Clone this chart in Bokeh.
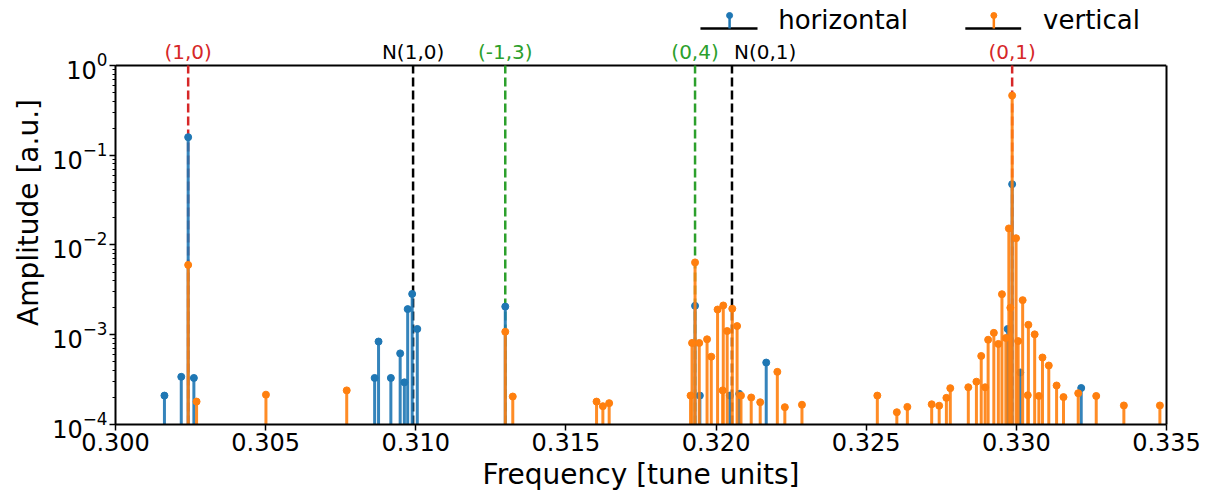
from bokeh.plotting import figure
from bokeh.models import Range1d, SingleIntervalTicker, PrintfTickFormatter, ColumnDataSource, LogAxis, FixedTicker
from bokeh.core.properties import value
from bokeh.embed import file_html
from bokeh.resources import INLINE

# ---------------- data ----------------
h_freq = [0.30163, 0.30219, 0.30242, 0.30261, 0.30863, 0.30876, 0.30917, 0.30948,
          0.30962, 0.30973, 0.30988, 0.31005, 0.31298, 0.31930, 0.31946, 0.32046,
          0.32077, 0.32167, 0.32971, 0.32986, 0.33013, 0.33216]
h_amp = [2.1e-4, 3.4e-4, 0.159, 3.3e-4, 3.3e-4, 8.4e-4, 3.3e-4, 6.2e-4,
         2.95e-4, 1.93e-3, 2.85e-3, 1.16e-3, 2.06e-3, 2.1e-3, 2.1e-4, 2.1e-4,
         2.2e-4, 4.9e-4, 1.16e-3, 4.76e-2, 3.8e-4, 2.55e-4]

v_freq = [0.30242, 0.30270, 0.30501, 0.30770, 0.31298, 0.31323, 0.31602, 0.31623,
          0.31644, 0.31915, 0.31920, 0.31930, 0.31944, 0.31970, 0.31984, 0.32005,
          0.32022, 0.32024, 0.32037, 0.32054, 0.32070, 0.32083, 0.32117, 0.32147,
          0.32204, 0.32229, 0.32286, 0.32537, 0.32602, 0.32637, 0.32718, 0.32743,
          0.32767, 0.32780, 0.32840, 0.32867, 0.32883, 0.32896, 0.32906, 0.32925,
          0.32940, 0.32952, 0.32965, 0.32975, 0.32980, 0.32986, 0.32999, 0.33006,
          0.33021, 0.33038, 0.33040, 0.33061, 0.33075, 0.33087, 0.33108, 0.33134,
          0.33157, 0.33206, 0.33266, 0.33358, 0.33478]
v_amp = [6.0e-3, 1.8e-4, 2.15e-4, 2.4e-4, 1.08e-3, 2.05e-4, 1.8e-4, 1.6e-4,
         1.73e-4, 2.1e-4, 8.1e-4, 6.4e-3, 8.1e-4, 8.9e-4, 5.7e-4, 1.91e-3,
         2.4e-4, 2.12e-3, 1.1e-3, 1.95e-3, 1.25e-3, 2.1e-4, 2.0e-4, 1.77e-4,
         3.86e-4, 1.56e-4, 1.66e-4, 2.1e-4, 1.37e-4, 1.57e-4, 1.68e-4, 1.62e-4,
         1.98e-4, 2.54e-4, 2.6e-4, 3.0e-4, 5.8e-4, 2.6e-4, 8.8e-4, 1.05e-3,
         7.9e-4, 2.83e-3, 9.2e-4, 1.53e-2, 2.0e-3, 0.463, 1.19e-2, 8.5e-4,
         2.43e-3, 2.12e-4, 1.29e-3, 1.01e-3, 2.08e-4, 5.58e-4, 4.54e-4, 2.72e-4,
         2.02e-4, 2.23e-4, 2.08e-4, 1.63e-4, 1.63e-4]

tune_lines = [0.30242, 0.30991, 0.31298, 0.31930, 0.32053, 0.32986]
tune_labels = ["(1,0)", "N(1,0)", "(-1,3)", "(0,4)", "N(0,1)", "(0,1)"]
tune_colors = ["#d62728", "black", "#2ca02c", "#2ca02c", "black", "#d62728"]
tune_align = ["center", "center", "center", "center", "left", "center"]

legend_names = ["horizontal", "vertical"]

x_ticks = [0.300, 0.305, 0.310, 0.315, 0.320, 0.325, 0.330, 0.335]
y_min, y_max = 1e-4, 1.0

BLUE = "#1f77b4"
ORANGE = "#ff7f0e"
FONT = "DejaVu Sans"

# vertical space above the axes box (used for labels + legend), in decades of the log scale
HEAD = 0.7242
y_view_top = y_max * 10 ** HEAD
y_label = y_max * 10 ** 0.145     # tune labels
y_leg_base = y_max * 10 ** 0.412  # legend icon baseline
y_leg_tip = y_max * 10 ** 0.557   # legend icon stem tip
y_leg_txt = y_max * 10 ** 0.5125  # legend text

# ---------------- figure ----------------
p = figure(width=1216, height=497, x_range=Range1d(x_ticks[0], x_ticks[-1]),
           y_range=Range1d(y_min, y_view_top), y_axis_type="log",
           output_backend="svg", toolbar_location=None,
           min_border_left=115, min_border_right=50, min_border_top=0, min_border_bottom=73)
p.grid.visible = False
p.outline_line_color = None

p.xaxis.ticker = SingleIntervalTicker(interval=0.005, num_minor_ticks=0)
p.xaxis.formatter = PrintfTickFormatter(format="%.3f")
p.xaxis.axis_label = "Frequency [tune units]"
p.yaxis.axis_label = "Amplitude [a.u.]"
p.yaxis.bounds = (y_min, y_max)
for ax in (p.xaxis[0], p.yaxis[0]):
    ax.axis_line_width = 2
    ax.axis_line_color = "black"
    ax.major_tick_line_width = 1.5
    ax.minor_tick_line_width = 1
    ax.major_tick_out = 6
    ax.major_tick_in = 0
    ax.minor_tick_out = 3
    ax.minor_tick_in = 0
    ax.major_label_text_font = FONT
    ax.major_label_text_font_size = "24px"
    ax.major_label_text_color = "black"
    ax.axis_label_text_font = FONT
    ax.axis_label_text_font_size = "28px"
    ax.axis_label_text_font_style = "normal"
    ax.axis_label_text_color = "black"
    ax.major_label_standoff = 2
    ax.axis_label_standoff = 4

# right edge of the axes box (axis line only, no ticks)
right_ax = LogAxis(bounds=(y_min, y_max), axis_line_width=2, axis_line_color="black",
                   ticker=FixedTicker(ticks=[], minor_ticks=[]),
                   major_tick_out=0, major_tick_in=0, minor_tick_out=0, minor_tick_in=0)
p.add_layout(right_ax, "right")

# top edge of the axes box
p.segment(x0=[x_ticks[0]], y0=[y_max], x1=[x_ticks[-1]], y1=[y_max],
          line_color="black", line_width=2)

# tune reference lines
p.segment(x0=tune_lines, y0=[y_min] * len(tune_lines), x1=tune_lines, y1=[y_max] * len(tune_lines),
          line_color=tune_colors, line_width=2.5, line_dash="9 4")

# stems
hs = ColumnDataSource(dict(f=h_freq, a=h_amp, b=[y_min] * len(h_freq)))
vs = ColumnDataSource(dict(f=v_freq, a=v_amp, b=[y_min] * len(v_freq)))
p.segment(x0="f", y0="b", x1="f", y1="a", source=hs, line_color=BLUE, line_width=3, line_alpha=0.9)
p.scatter(x="f", y="a", source=hs, marker="circle", size=7, fill_color=BLUE, line_color=BLUE)
p.segment(x0="f", y0="b", x1="f", y1="a", source=vs, line_color=ORANGE, line_width=3, line_alpha=0.9)
p.scatter(x="f", y="a", source=vs, marker="circle", size=7, fill_color=ORANGE, line_color=ORANGE)

# tune labels above the box
for xv, txt, col, al in zip(tune_lines, tune_labels, tune_colors, tune_align):
    p.text(x=[xv], y=[y_label], text=[txt], text_color=col, text_font=value(FONT),
           text_font_size="20px", text_align=al, text_baseline="middle",
           x_offset=2 if al == "left" else 0)

# legend (icon line start/end, stem position, text start in frequency units)
leg_line_x0 = [0.31948, 0.32830]
leg_line_x1 = [0.32138, 0.33016]
leg_stem_x = [0.32045, 0.32925]
leg_text_x = [0.32207, 0.33089]
leg_colors = [BLUE, ORANGE]
p.segment(x0=leg_line_x0, y0=[y_leg_base] * 2, x1=leg_line_x1, y1=[y_leg_base] * 2,
          line_color="black", line_width=2.5)
p.segment(x0=leg_stem_x, y0=[y_leg_base] * 2, x1=leg_stem_x, y1=[y_leg_tip] * 2,
          line_color=leg_colors, line_width=2.5)
p.scatter(x=leg_stem_x, y=[y_leg_tip] * 2, marker="circle", size=6,
          fill_color=leg_colors, line_color=leg_colors)
p.text(x=leg_text_x, y=[y_leg_txt] * 2, text=legend_names, text_color="black",
       text_font=value(FONT), text_font_size="26px", text_align="left",
       text_baseline="middle")

open("out.html", "w").write(file_html(p, INLINE))
